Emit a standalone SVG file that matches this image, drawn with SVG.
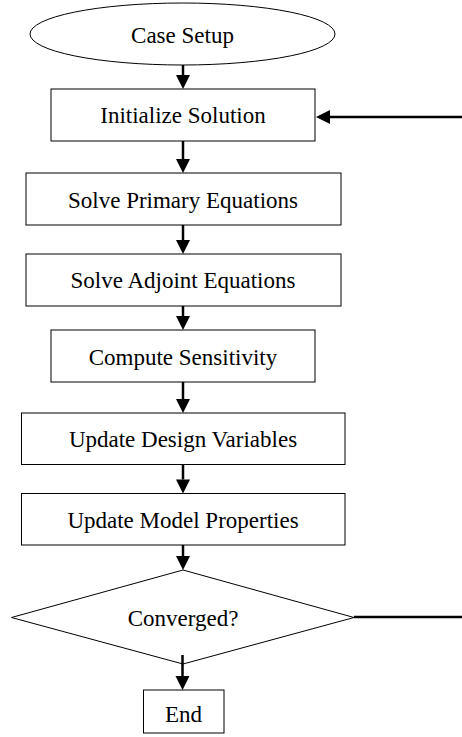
<svg xmlns="http://www.w3.org/2000/svg" width="462" height="737" viewBox="0 0 462 737">
<style>
.shape{fill:#fff;stroke:#000;stroke-width:1}
.lbl{font-family:"Liberation Serif","Times New Roman",serif;font-size:23px;fill:#000;text-anchor:middle}
.conn{stroke:#000;stroke-width:2.5;fill:none}
</style>
<defs>
<marker id="ah" markerUnits="userSpaceOnUse" markerWidth="15" markerHeight="15" refX="0" refY="7" orient="auto" overflow="visible">
<path d="M0,0 L14,7 L0,14 z" fill="#000"/>
</marker>
</defs>
<rect width="462" height="737" fill="#fff"/>
<g id="n-case-setup"><ellipse class="shape" cx="182.5" cy="34" rx="152.5" ry="31"/><text class="lbl" x="182.5" y="43">Case Setup</text></g>
<g id="n-init"><rect class="shape" x="51" y="89" width="264" height="52"/><text class="lbl" x="183" y="123">Initialize Solution</text></g>
<g id="n-primary"><rect class="shape" x="26" y="173" width="315" height="52"/><text class="lbl" x="183" y="207.5">Solve Primary Equations</text></g>
<g id="n-adjoint"><rect class="shape" x="26" y="254" width="315" height="52"/><text class="lbl" x="183" y="287.5">Solve Adjoint Equations</text></g>
<g id="n-sens"><rect class="shape" x="51" y="330" width="264" height="52"/><text class="lbl" x="183" y="365">Compute Sensitivity</text></g>
<g id="n-design"><rect class="shape" x="21.5" y="413" width="323.5" height="51.5"/><text class="lbl" x="183" y="447">Update Design Variables</text></g>
<g id="n-model"><rect class="shape" x="21.5" y="493.5" width="323.5" height="51.5"/><text class="lbl" x="183" y="527.5">Update Model Properties</text></g>
<g id="n-conv"><polygon class="shape" points="183,570 354,617.5 183,664 11.5,617.5"/><text class="lbl" x="183" y="626">Converged?</text></g>
<g id="n-end"><rect class="shape" x="143.5" y="690" width="80.5" height="43"/><text class="lbl" x="183.5" y="721.5">End</text></g>
<g id="connectors">
<line class="conn" x1="183" y1="65" x2="183" y2="75" marker-end="url(#ah)"/>
<line class="conn" x1="183" y1="141" x2="183" y2="159" marker-end="url(#ah)"/>
<line class="conn" x1="183" y1="225" x2="183" y2="240" marker-end="url(#ah)"/>
<line class="conn" x1="183" y1="306" x2="183" y2="316" marker-end="url(#ah)"/>
<line class="conn" x1="183" y1="382" x2="183" y2="399" marker-end="url(#ah)"/>
<line class="conn" x1="183" y1="464.5" x2="183" y2="479.5" marker-end="url(#ah)"/>
<line class="conn" x1="183" y1="545" x2="183" y2="556" marker-end="url(#ah)"/>
<line class="conn" x1="182.5" y1="655" x2="182.5" y2="676" marker-end="url(#ah)"/>
<line class="conn" x1="462" y1="117" x2="330" y2="117" marker-end="url(#ah)"/>
<line class="conn" x1="354" y1="617" x2="462" y2="617"/>
</g>
</svg>
